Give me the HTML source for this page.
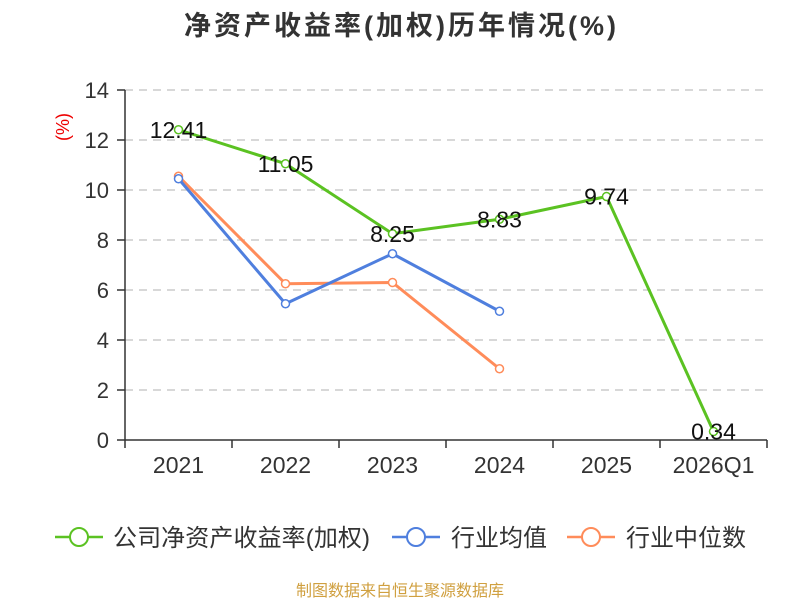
<!DOCTYPE html>
<html><head><meta charset="utf-8"><style>
body{margin:0;background:#fff;font-family:"Liberation Sans","Noto Sans CJK SC",sans-serif}
</style></head><body>
<svg width="800" height="600" xmlns="http://www.w3.org/2000/svg" font-family="Liberation Sans, Noto Sans CJK SC, sans-serif">
<text x="400" y="35" text-anchor="middle" font-size="27" font-weight="bold" fill="#333" textLength="432">净资产收益率(加权)历年情况(%)</text>
<text transform="translate(69,127) rotate(-90)" text-anchor="middle" font-size="18" fill="#e00">(%)</text>
<g id="grid"></g><g id="axes"></g><g id="series"></g>
<g font-size="24" fill="#333">
<g><line x1="55" y1="537" x2="103" y2="537" stroke="#5bc222" stroke-width="2.5"/><circle cx="79" cy="537" r="9" fill="#fff" stroke="#5bc222" stroke-width="2"/><text x="113" y="546" textLength="257">公司净资产收益率(加权)</text></g>
<g><line x1="392" y1="537" x2="440" y2="537" stroke="#4f7fde" stroke-width="2.5"/><circle cx="416" cy="537" r="9" fill="#fff" stroke="#4f7fde" stroke-width="2"/><text x="451" y="546">行业均值</text></g>
<g><line x1="567" y1="537" x2="615" y2="537" stroke="#ff8c5a" stroke-width="2.5"/><circle cx="591" cy="537" r="9" fill="#fff" stroke="#ff8c5a" stroke-width="2"/><text x="626" y="546">行业中位数</text></g>
</g>
<text x="400" y="596" text-anchor="middle" font-size="16" fill="#d0a040">制图数据来自恒生聚源数据库</text>
</svg>
<script>
const categories=["2021","2022","2023","2024","2025","2026Q1"];
const companyValues=[12.41,11.05,8.25,8.83,9.74,0.34];
const industryAvg=[10.45,5.45,7.45,5.15,null,null];
const industryMedian=[10.55,6.25,6.3,2.85,null,null];
const yTicks=[0,2,4,6,8,10,12,14];
const NS="http://www.w3.org/2000/svg";
const x0=125,x1=767,y0=440,y1=90,yMax=14;
const step=(x1-x0)/categories.length;
const xs=i=>x0+step*(i+0.5);
const ys=v=>y0-(v/yMax)*(y0-y1);
function mk(t,a,p){const e=document.createElementNS(NS,t);for(const k in a)e.setAttribute(k,a[k]);p.appendChild(e);return e;}
const grid=document.getElementById('grid'),axes=document.getElementById('axes'),ser=document.getElementById('series');
yTicks.forEach(v=>{
 if(v>0){const g=mk('line',{x1:x0,x2:x1,y1:ys(v),y2:ys(v),stroke:'#ccc','stroke-dasharray':'8,6','stroke-width':1.5},grid);
 
 }
 const t=mk('line',{x1:x0-8,x2:x0,y1:ys(v),y2:ys(v),stroke:'#333','stroke-width':1.5},axes);
 
 
 const l=mk('text',{x:x0-16,y:ys(v)+8,'text-anchor':'end','font-size':22,fill:'#333'},axes);l.textContent=v;
 
 
});
const ya=mk('line',{x1:x0,x2:x0,y1:y1,y2:y0,stroke:'#333','stroke-width':1.5},axes);


const xa=mk('line',{x1:x0,x2:x1,y1:y0,y2:y0,stroke:'#333','stroke-width':1.5},axes);


for(let i=0;i<=categories.length;i++){const t=mk('line',{x1:x0+step*i,x2:x0+step*i,y1:y0,y2:y0+8,stroke:'#333','stroke-width':1.5},axes);
 
 }
categories.forEach((c,i)=>{const l=mk('text',{x:xs(i),y:y0+33,'text-anchor':'middle','font-size':23,fill:'#333'},axes);l.textContent=c;
 
 });
function draw(vals,color,name,labels){
 const pts=vals.map((v,i)=>v==null?null:[xs(i),ys(v)]).filter(p=>p);
 const pl=mk('polyline',{points:pts.map(p=>p.join(',')).join(' '),fill:'none',stroke:color,'stroke-width':3},ser);
 
 
 vals.forEach((v,i)=>{if(v==null)return;
  const c=mk('circle',{cx:xs(i),cy:ys(v),r:4,fill:'#fff',stroke:color,'stroke-width':1.5},ser);
  
  
  if(labels){const t=mk('text',{x:xs(i),y:ys(v)+8,'text-anchor':'middle','font-size':23,fill:'#111'},ser);t.textContent=v.toFixed(2);
   
   }
 });
}
draw(industryMedian,'#ff8c5a','industry-median',false);
draw(industryAvg,'#4f7fde','industry-avg',false);
draw(companyValues,'#5bc222','company',true);
</script>
</body></html>
